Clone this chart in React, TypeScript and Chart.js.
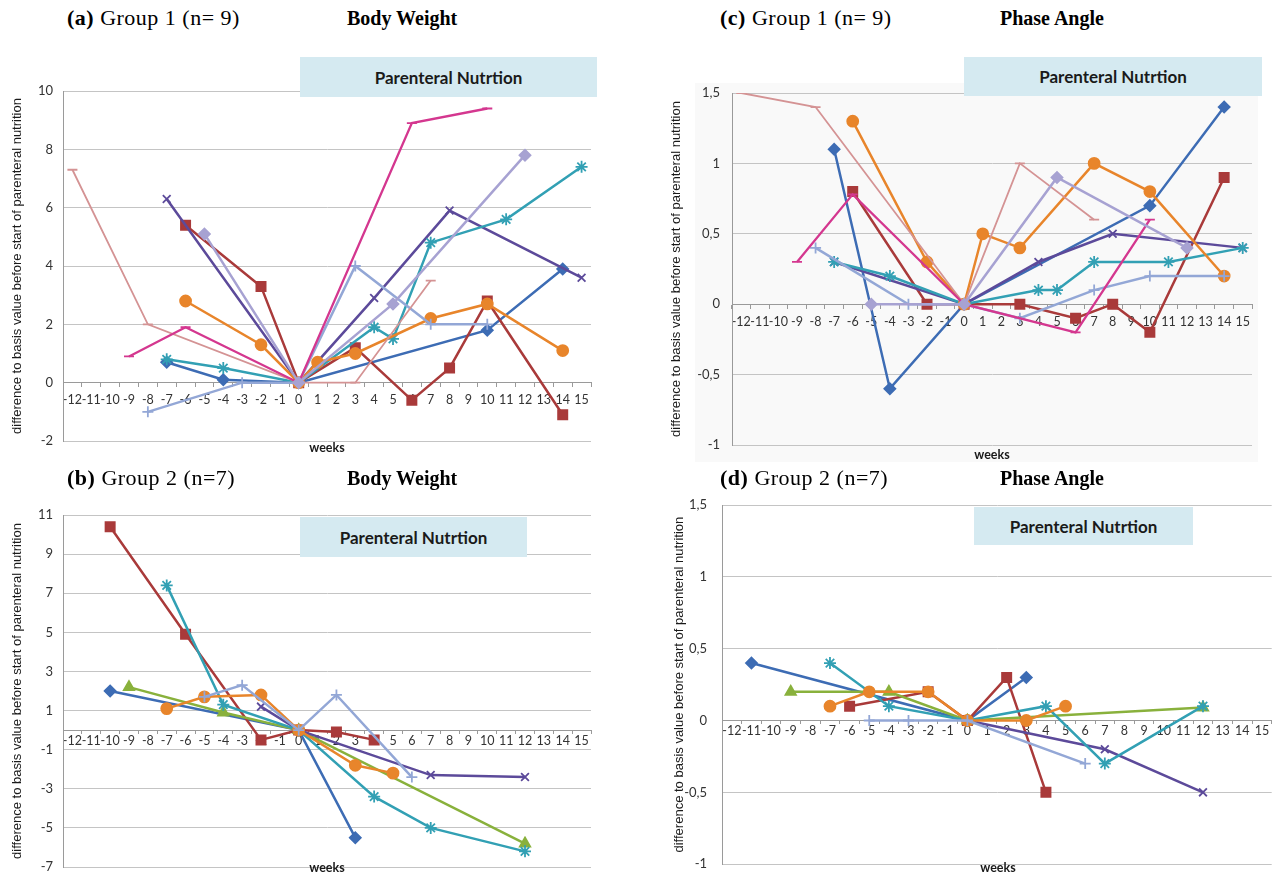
import React, { useEffect, useRef } from 'react';
import Chart from 'chart.js/auto';

// ---------- categories ----------
const WEEK_LABELS = ['-12','-11','-10','-9','-8','-7','-6','-5','-4','-3','-2','-1','0','1','2','3','4','5','6','7','8','9','10','11','12','13','14','15'];
const Y_TITLE = 'difference to basis value before start of parenteral nutrition';

// ---------- (a) Group 1 – Body Weight ----------
const aBlueW = [-7, -4, 0, 10, 14];            const aBlueV = [0.7, 0.1, 0, 1.8, 3.9];
const aRedW = [-6, -2, 0, 3, 6, 8, 10, 14];    const aRedV = [5.4, 3.3, 0, 1.2, -0.6, 0.5, 2.8, -1.1];
const aPurpleW = [-7, 0, 4, 8, 15];            const aPurpleV = [6.3, 0, 2.9, 5.9, 3.6];
const aTealW = [-7, -4, 0, 4, 5, 7, 11, 15];   const aTealV = [0.8, 0.5, 0, 1.9, 1.5, 4.8, 5.6, 7.4];
const aOrangeW = [-6, -2, 0, 1, 3, 7, 10, 14]; const aOrangeV = [2.8, 1.3, 0, 0.7, 1.0, 2.2, 2.7, 1.1];
const aLightW = [-8, -3, 0, 3, 7, 10];         const aLightV = [-1.0, 0, 0, 4.0, 2.0, 2.0];
const aSalmonW = [-12, -8, 0, 3, 7];           const aSalmonV = [7.3, 2.0, 0, 0, 3.5];
const aMagentaW = [-9, -6, 0, 6, 10];          const aMagentaV = [0.9, 1.9, 0, 8.9, 9.4];
const aLavenderW = [-5, 0, 5, 12];             const aLavenderV = [5.1, 0, 2.7, 7.8];

// ---------- (b) Group 2 – Body Weight ----------
const bBlueW = [-10, 0, 3];                    const bBlueV = [2.0, 0, -5.5];
const bRedW = [-10, -6, -2, 0, 2, 4];          const bRedV = [10.4, 4.9, -0.5, 0, -0.1, -0.5];
const bGreenW = [-9, -4, 0, 12];               const bGreenV = [2.2, 0.9, 0, -5.8];
const bPurpleW = [-2, 0, 7, 12];               const bPurpleV = [1.2, 0, -2.3, -2.4];
const bTealW = [-7, -4, 0, 4, 7, 12];          const bTealV = [7.4, 1.3, 0, -3.4, -5.0, -6.2];
const bOrangeW = [-7, -5, -2, 0, 3, 5];        const bOrangeV = [1.1, 1.7, 1.8, 0, -1.8, -2.2];
const bLightW = [-5, -3, 0, 2, 6];             const bLightV = [1.7, 2.3, 0, 1.8, -2.4];

// ---------- (c) Group 1 – Phase Angle ----------
const cBlueW = [-7, -4, 0, 10, 14];            const cBlueV = [1.1, -0.6, 0, 0.7, 1.4];
const cRedW = [-6, -2, 0, 3, 6, 8, 10, 14];    const cRedV = [0.8, 0, 0, 0, -0.1, 0, -0.2, 0.9];
const cPurpleW = [-7, 0, 4, 8, 15];            const cPurpleV = [0.3, 0, 0.3, 0.5, 0.4];
const cTealW = [-7, -4, 0, 4, 5, 7, 11, 15];   const cTealV = [0.3, 0.2, 0, 0.1, 0.1, 0.3, 0.3, 0.4];
const cOrangeW = [-6, -2, 0, 1, 3, 7, 10, 14]; const cOrangeV = [1.3, 0.3, 0, 0.5, 0.4, 1.0, 0.8, 0.2];
const cLightW = [-8, -3, 0, 3, 7, 10, 14];     const cLightV = [0.4, 0, 0, -0.1, 0.1, 0.2, 0.2];
const cSalmonW = [-12, -8, 0, 3, 7];           const cSalmonV = [1.5, 1.4, 0, 1.0, 0.6];
const cMagentaW = [-9, -6, 0, 6, 10];          const cMagentaV = [0.3, 0.78, 0, -0.2, 0.6];
const cLavenderW = [-5, 0, 5, 12];             const cLavenderV = [0, 0, 0.9, 0.4];

// ---------- (d) Group 2 – Phase Angle ----------
const dBlueW = [-11, 0, 3];                    const dBlueV = [0.4, 0, 0.3];
const dRedW = [-6, -2, 0, 2, 4];               const dRedV = [0.1, 0.2, 0, 0.3, -0.5];
const dGreenW = [-9, -4, 0, 12];               const dGreenV = [0.2, 0.2, 0, 0.09];
const dPurpleW = [0, 7, 12];                   const dPurpleV = [0, -0.2, -0.5];
const dTealW = [-7, -4, 0, 4, 7, 12];          const dTealV = [0.4, 0.1, 0, 0.1, -0.3, 0.1];
const dOrangeW = [-7, -5, -2, 0, 3, 5];        const dOrangeV = [0.1, 0.2, 0.2, 0, 0, 0.1];
const dLightW = [-5, -3, 0, 6];                const dLightV = [0, 0, 0, -0.3];

// ---------- series styles ----------
const STYLE: Record<string, { color: string; point: string; r: number; lw: number }> = {
  blue: { color: '#3D6CB4', point: 'rectRot', r: 5.5, lw: 2.5 },
  red: { color: '#A93A3A', point: 'rect', r: 6.5, lw: 2.5 },
  green: { color: '#89B13C', point: 'triangle', r: 6, lw: 2.5 },
  purple: { color: '#5C4A9A', point: 'crossRot', r: 5.5, lw: 2.5 },
  teal: { color: '#32A0B4', point: 'star', r: 6, lw: 2.5 },
  orange: { color: '#E8852B', point: 'circle', r: 5.5, lw: 2.5 },
  light: { color: '#93A7D6', point: 'cross', r: 5.5, lw: 2.5 },
  salmon: { color: '#D49394', point: 'line', r: 5, lw: 1.8 },
  magenta: { color: '#D4378F', point: 'line', r: 5, lw: 2.3 },
  lavender: { color: '#A7A2D2', point: 'rectRot', r: 5.5, lw: 2.5 },
};

type Series = { key: string; w: number[]; v: number[] };

const seriesA: Series[] = [
  { key: 'lavender', w: aLavenderW, v: aLavenderV },
  { key: 'magenta', w: aMagentaW, v: aMagentaV },
  { key: 'salmon', w: aSalmonW, v: aSalmonV },
  { key: 'light', w: aLightW, v: aLightV },
  { key: 'orange', w: aOrangeW, v: aOrangeV },
  { key: 'teal', w: aTealW, v: aTealV },
  { key: 'purple', w: aPurpleW, v: aPurpleV },
  { key: 'red', w: aRedW, v: aRedV },
  { key: 'blue', w: aBlueW, v: aBlueV },
];
const seriesB: Series[] = [
  { key: 'light', w: bLightW, v: bLightV },
  { key: 'orange', w: bOrangeW, v: bOrangeV },
  { key: 'teal', w: bTealW, v: bTealV },
  { key: 'purple', w: bPurpleW, v: bPurpleV },
  { key: 'green', w: bGreenW, v: bGreenV },
  { key: 'red', w: bRedW, v: bRedV },
  { key: 'blue', w: bBlueW, v: bBlueV },
];
const seriesC: Series[] = [
  { key: 'lavender', w: cLavenderW, v: cLavenderV },
  { key: 'magenta', w: cMagentaW, v: cMagentaV },
  { key: 'salmon', w: cSalmonW, v: cSalmonV },
  { key: 'light', w: cLightW, v: cLightV },
  { key: 'orange', w: cOrangeW, v: cOrangeV },
  { key: 'teal', w: cTealW, v: cTealV },
  { key: 'purple', w: cPurpleW, v: cPurpleV },
  { key: 'red', w: cRedW, v: cRedV },
  { key: 'blue', w: cBlueW, v: cBlueV },
];
const seriesD: Series[] = [
  { key: 'light', w: dLightW, v: dLightV },
  { key: 'orange', w: dOrangeW, v: dOrangeV },
  { key: 'teal', w: dTealW, v: dTealV },
  { key: 'purple', w: dPurpleW, v: dPurpleV },
  { key: 'green', w: dGreenW, v: dGreenV },
  { key: 'red', w: dRedW, v: dRedV },
  { key: 'blue', w: dBlueW, v: dBlueV },
];

type PanelCfg = {
  x: number; y: number; w: number; h: number;
  pad: { top: number; right: number; bottom: number };
  yWidth: number; yMin: number; yMax: number; yStep: number; comma: boolean;
  titlePad: number; tickPad: number; xTickLen: number; xTickPad: number;
  series: Series[];
};

const PANELS: PanelCfg[] = [
  { x: 0, y: 40, w: 640, h: 420, pad: { top: 51, right: 49, bottom: 19 }, yWidth: 63,
    yMin: -2, yMax: 10, yStep: 2, comma: false, titlePad: 10, tickPad: 10, xTickLen: 4, xTickPad: 6, series: seriesA },
  { x: 0, y: 470, w: 640, h: 417, pad: { top: 45, right: 49, bottom: 20 }, yWidth: 63,
    yMin: -7, yMax: 11, yStep: 2, comma: false, titlePad: 10, tickPad: 10, xTickLen: 3, xTickPad: 0, series: seriesB },
  { x: 640, y: 40, w: 640, h: 430, pad: { top: 53, right: 28, bottom: 25 }, yWidth: 92,
    yMin: -1, yMax: 1.5, yStep: 0.5, comma: true, titlePad: 29, tickPad: 12, xTickLen: 4, xTickPad: 6, series: seriesC },
  { x: 640, y: 470, w: 640, h: 417, pad: { top: 35, right: 8, bottom: 20 }, yWidth: 82,
    yMin: -1, yMax: 1.5, yStep: 0.5, comma: true, titlePad: 32, tickPad: 15, xTickLen: 3, xTickPad: 0, series: seriesD },
];

function ChartPanel({ cfg }: { cfg: PanelCfg }) {
  const ref = useRef<HTMLCanvasElement>(null);
  useEffect(() => {
    const datasets = cfg.series.map((s) => {
      const st = STYLE[s.key];
      return {
        label: s.key,
        data: s.w.map((wk, i) => ({ x: String(wk), y: s.v[i] })),
        borderColor: st.color,
        backgroundColor: st.color,
        borderWidth: st.lw,
        pointStyle: st.point,
        pointRadius: st.r,
        pointBorderColor: st.color,
        pointBackgroundColor: st.color,
        pointBorderWidth: 1.8,
        tension: 0,
        fill: false,
      };
    });
    const chart = new Chart(ref.current as HTMLCanvasElement, {
      type: 'line',
      data: { labels: WEEK_LABELS, datasets: datasets as any },
      options: {
        animation: false,
        responsive: false,
        maintainAspectRatio: false,
        layout: { padding: { left: 0, top: cfg.pad.top, right: cfg.pad.right, bottom: cfg.pad.bottom } },
        plugins: { legend: { display: false }, tooltip: { enabled: false } },
        scales: {
          x: {
            type: 'category',
            labels: WEEK_LABELS,
            position: { y: 0 } as any,
            offset: true,
            grid: { display: true, drawOnChartArea: false, drawTicks: true, tickLength: cfg.xTickLen, offset: true, color: '#9a9a9a' },
            border: { display: true, color: '#9a9a9a', width: 1 },
            ticks: { autoSkip: false, maxRotation: 0, minRotation: 0, padding: cfg.xTickPad, font: { family: 'Lato', size: 12.5 }, color: '#333' },
          },
          y: {
            type: 'linear',
            min: cfg.yMin,
            max: cfg.yMax,
            ticks: {
              stepSize: cfg.yStep,
              padding: cfg.tickPad,
              font: { family: 'Lato', size: 13 },
              color: '#333',
              callback: (v: any) => (cfg.comma ? String(v).replace('.', ',') : String(v)),
            },
            grid: { color: '#c4c4c4', drawTicks: false, lineWidth: 1 },
            border: { display: true, color: '#9a9a9a' },
            title: {
              display: true,
              text: Y_TITLE,
              color: '#1a1a1a',
              font: { family: 'Liberation Sans', size: 13 },
              padding: { top: cfg.titlePad, bottom: 0 },
            },
            afterFit: (s: any) => { s.width = cfg.yWidth; },
          },
        },
      } as any,
    });
    return () => chart.destroy();
  }, []);
  return (
    <canvas
      ref={ref}
      width={cfg.w}
      height={cfg.h}
      style={{ position: 'absolute', left: cfg.x, top: cfg.y, width: cfg.w, height: cfg.h }}
    />
  );
}

const serif = "'Liberation Serif', 'Times New Roman', serif";

function Title({ x, y, letter, text }: { x: number; y: number; letter: string; text: string }) {
  return (
    <div style={{ position: 'absolute', left: x, top: y, fontFamily: serif, fontSize: 22, lineHeight: '22px', letterSpacing: '0.5px', whiteSpace: 'nowrap', color: '#000' }}>
      <b>{letter}</b> {text}
    </div>
  );
}

function Heading({ x, y, text }: { x: number; y: number; text: string }) {
  return (
    <div style={{ position: 'absolute', left: x, top: y, fontFamily: serif, fontSize: 20, lineHeight: '22px', fontWeight: 'bold', whiteSpace: 'nowrap', color: '#000' }}>
      {text}
    </div>
  );
}

function PNBox({ x, y, w, h }: { x: number; y: number; w: number; h: number }) {
  return (
    <div style={{ position: 'absolute', left: x, top: y, width: w, height: h, background: '#D5EAF1', display: 'flex', alignItems: 'center', justifyContent: 'center', fontFamily: 'Lato', fontWeight: 'bold', fontSize: 17, color: '#1a1a1a', whiteSpace: 'nowrap' }}>
      Parenteral Nutrtion
    </div>
  );
}

function Weeks({ cx, y }: { cx: number; y: number }) {
  return (
    <div style={{ position: 'absolute', left: cx - 30, top: y, width: 60, textAlign: 'center', fontFamily: 'Lato', fontWeight: 'bold', fontSize: 12.5, lineHeight: '14px', color: '#1a1a1a' }}>
      weeks
    </div>
  );
}

export default function App() {
  return (
    <div style={{ position: 'absolute', left: 0, top: 0, width: 1280, height: 887, background: '#fff', overflow: 'hidden' }}>
      <div style={{ position: 'absolute', left: 695, top: 83, width: 563, height: 379, background: '#f9f9f9' }} />
      {PANELS.map((p, i) => <ChartPanel key={i} cfg={p} />)}
      <Title x={67} y={7} letter="(a)" text="Group 1 (n= 9)" />
      <Heading x={347} y={7} text="Body Weight" />
      <Title x={67} y={467} letter="(b)" text="Group 2 (n=7)" />
      <Heading x={347} y={467} text="Body Weight" />
      <Title x={720} y={7} letter="(c)" text="Group 1 (n= 9)" />
      <Heading x={1000} y={7} text="Phase Angle" />
      <Title x={720} y={467} letter="(d)" text="Group 2 (n=7)" />
      <Heading x={1000} y={467} text="Phase Angle" />
      <PNBox x={300} y={57} w={297} h={40} />
      <PNBox x={300} y={517} w={227} h={40} />
      <PNBox x={964} y={57} w={298} h={39} />
      <PNBox x={974} y={507} w={219} h={38} />
      <Weeks cx={327} y={441} />
      <Weeks cx={327} y={861} />
      <Weeks cx={992} y={448} />
      <Weeks cx={998} y={861} />
    </div>
  );
}
